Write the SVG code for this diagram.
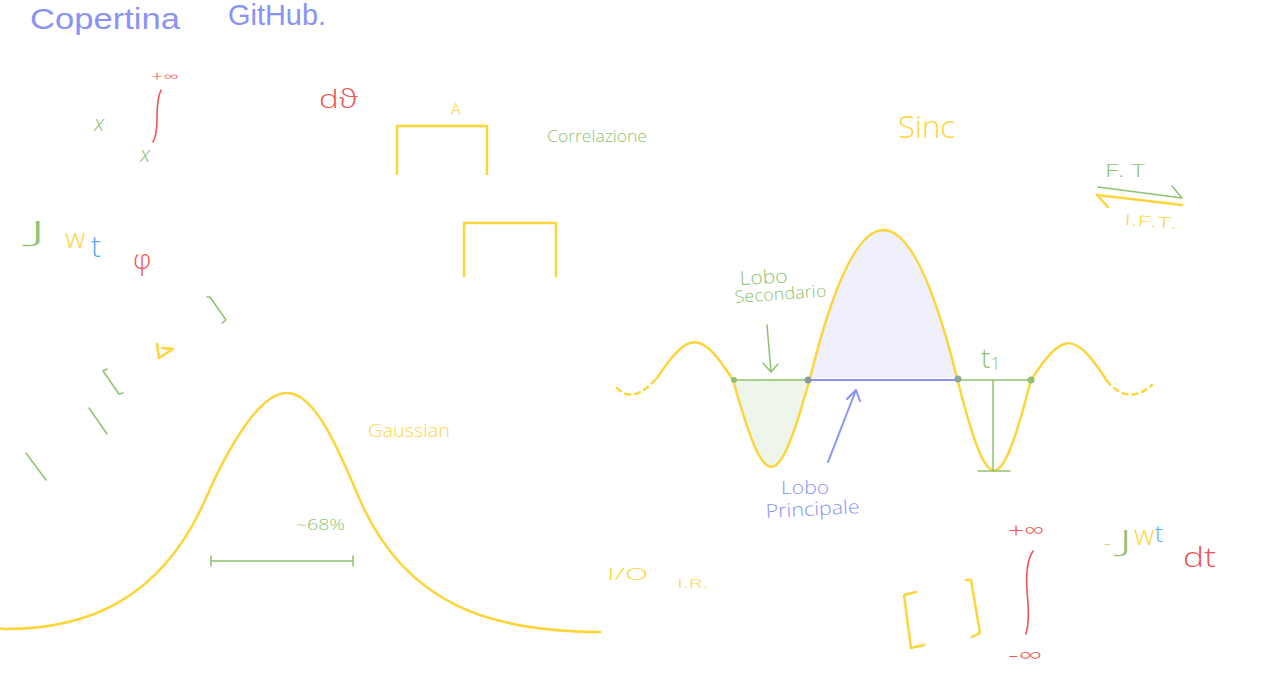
<svg xmlns="http://www.w3.org/2000/svg" width="1280" height="687" viewBox="0 0 1280 687">
<style>
text{font-family:"Open Sans","Liberation Sans",sans-serif;font-weight:300}
.blue{fill:#8a93f5}.yel{fill:#fdd53a}.grn{fill:#8fc270}.red{fill:#f05456}.lb{fill:#5aa8f2}.org{fill:#f1c47a}
.sy{fill:none;stroke:#fdd53a;stroke-width:2.5;stroke-linecap:round;stroke-linejoin:round}
.sg{fill:none;stroke:#8fc270;stroke-width:1.5;stroke-linecap:round;stroke-linejoin:round}
.sr{fill:none;stroke:#f05456;stroke-width:1.6;stroke-linecap:round}
.sb{fill:none;stroke:#8a93f5;stroke-width:2;stroke-linecap:round;stroke-linejoin:round}
</style>
<rect width="1280" height="687" fill="#ffffff"/>

<g id="title">
<text x="30" y="29" font-size="29" class="blue" style="font-family:'Liberation Sans',sans-serif;font-weight:normal" textLength="150" lengthAdjust="spacingAndGlyphs">Copertina</text>
<text x="228" y="25" font-size="29" class="blue" style="font-family:'Liberation Sans',sans-serif;font-weight:normal" textLength="98" lengthAdjust="spacingAndGlyphs">GitHub.</text>
</g>

<g id="integral-top">
<text x="151" y="82" font-size="15" class="red" textLength="27" lengthAdjust="spacingAndGlyphs">+∞</text>
<path class="sr" d="M161,90 C158,96 157,105 157,118 C157,130 156,137 153,142"/>
<text x="94" y="131" font-size="22" font-style="italic" class="grn">x</text>
<text x="140" y="162" font-size="22" font-style="italic" class="grn">x</text>
<text x="319" y="108" font-size="26" class="red" textLength="39" lengthAdjust="spacingAndGlyphs">dϑ</text>
</g>

<g id="rect-a">
<path class="sy" d="M397,174 V126 H487 V174" stroke-width="2"/>
<text x="451" y="115" font-size="16" class="yel">A</text>
</g>
<g id="rect-b">
<path class="sy" d="M464,276 V223 H556 V276" stroke-width="2"/>
</g>
<g id="correlazione">
<text x="547" y="142" font-size="17" class="grn" textLength="100" lengthAdjust="spacingAndGlyphs">Correlazione</text>
</g>

<g id="jwt-phi">
<text x="29" y="241" font-size="28" class="grn" textLength="17" lengthAdjust="spacingAndGlyphs">J</text>
<text x="65" y="248" font-size="28" class="yel">w</text>
<text x="91" y="257" font-size="30" class="lb">t</text>
<text x="133" y="269" font-size="27" class="red">φ</text>
</g>

<g id="marks">
<path class="sg" d="M207,297 L210,297 L226,320 L222,323"/>
<path class="sy" stroke-width="1.5" d="M162,348 L173,349 L159,358 L157,344"/>
<path class="sg" d="M107,369 L103,371 L119,394 L123,393"/>
<path class="sg" d="M89,408 L107,434"/>
<path class="sg" d="M26,453 L46,480"/>
</g>

<g id="gaussian">
<path class="sy" d="M0,628.5 L5,629 C85,629 161,601.5 206,498 C224,456.6 257,393 287,393 C317,393 342,458.6 360,500 C405,603.5 490,632 600,632"/>
<text x="368" y="437" font-size="19" class="yel" textLength="82" lengthAdjust="spacingAndGlyphs">Gaussian</text>
<text x="296" y="530" font-size="15" class="grn" textLength="49" lengthAdjust="spacingAndGlyphs">~68%</text>
<path class="sg" stroke-width="2" d="M211,561 H353 M211,556 V566 M353,556 V566"/>
</g>

<g id="sinc-title">
<text x="898" y="138" font-size="31" class="yel">Sinc</text>
</g>

<g id="ft-ift">
<text x="1105" y="177" font-size="18" class="grn" textLength="40" lengthAdjust="spacingAndGlyphs">F. T</text>
<text x="1124" y="225" font-size="15" class="yel" textLength="53" lengthAdjust="spacingAndGlyphs" transform="rotate(4 1124 225)">I.F.T.</text>
</g>

<g id="sinc">
<path d="M810,378 Q883.5,82 957,378 Z" fill="#eff0fb"/>
<path d="M733,380 C765.6,496 777.4,496 810,378 Z" fill="#eef5ea"/>
<path class="sy" stroke-dasharray="5,5" d="M617,388 Q633,405 657,378"/>
<path class="sy" d="M657,378 C689,330 701,330 733,380 C765.6,496 777.4,496 810,378 Q883.5,82 957,378 C988.4,501 999.6,501 1031,380 C1063,331 1075,331 1107,381"/>
<path class="sy" stroke-dasharray="5,5" d="M1107,381 Q1128,406 1152,385"/>
<path class="sg" stroke-width="3" d="M733,380 H810 M957,380 H1031"/>
<path class="sb" stroke-width="3" d="M810,380 H957"/>
<path class="sg" stroke-width="2" d="M993,380 V471 M978,471 H1010"/>
<circle cx="734" cy="380" r="3" fill="#8fc270"/>
<circle cx="808" cy="380" r="3.5" fill="#8a9aa0"/>
<circle cx="958" cy="379" r="3.5" fill="#8aa890"/>
<circle cx="1031" cy="380" r="3.5" fill="#8fc270"/>
<text x="981" y="368" font-size="28" class="grn">t<tspan font-size="18" dy="2">1</tspan></text>
</g>

<g id="lobo-secondario">
<text x="740" y="285" font-size="19" class="grn" textLength="48" lengthAdjust="spacingAndGlyphs" transform="rotate(-3 740 285)">Lobo</text>
<text x="735" y="303" font-size="17" class="grn" textLength="92" lengthAdjust="spacingAndGlyphs" transform="rotate(-4 735 303)">Secondario</text>
</g>
<g id="lobo-principale">
<text x="781" y="494" font-size="19" class="blue" textLength="48" lengthAdjust="spacingAndGlyphs">Lobo</text>
<text x="766" y="518" font-size="19" class="blue" textLength="94" lengthAdjust="spacingAndGlyphs" transform="rotate(-3 766 518)">Principale</text>
</g>

<g id="connectors">
<path class="sg" stroke-width="2.5" d="M1098,187 L1182,198 L1172,186"/>
<path class="sy" d="M1182,205 L1097,195 L1108,207"/>
<path class="sg" d="M767,325 L771,372 M763,363 L771,372 L778,364"/>
<path class="sb" d="M828,462 L856,390 M847,399 L856,390 L860,401"/>
</g>

<g id="io-ir">
<text x="607" y="580" font-size="17" class="yel" textLength="41" lengthAdjust="spacingAndGlyphs">I/O</text>
<text x="677" y="588" font-size="13" class="yel" textLength="31" lengthAdjust="spacingAndGlyphs">I.R.</text>
</g>

<g id="integral-bottom">
<path class="sy" stroke-width="2" d="M916,592 L904,595 L911,648 L924,645"/>
<path class="sy" stroke-width="2" d="M966,580 L971,580 L980,633 L972,637"/>
<text x="1008" y="538" font-size="22" class="red" textLength="36" lengthAdjust="spacingAndGlyphs">+∞</text>
<path class="sr" d="M1033,551 C1027,560 1026,575 1027,590 C1028,605 1030,620 1026,634"/>
<text x="1008" y="663" font-size="22" class="red" textLength="34" lengthAdjust="spacingAndGlyphs">-∞</text>
<text x="1104" y="550" font-size="20" class="org">-</text>
<text x="1119" y="551" font-size="30" class="grn" textLength="13" lengthAdjust="spacingAndGlyphs">J</text>
<text x="1134" y="545" font-size="28" class="yel">w</text>
<text x="1155" y="542" font-size="24" class="lb">t</text>
<text x="1183" y="567" font-size="28" class="red" textLength="33" lengthAdjust="spacingAndGlyphs">dt</text>
</g>
</svg>
